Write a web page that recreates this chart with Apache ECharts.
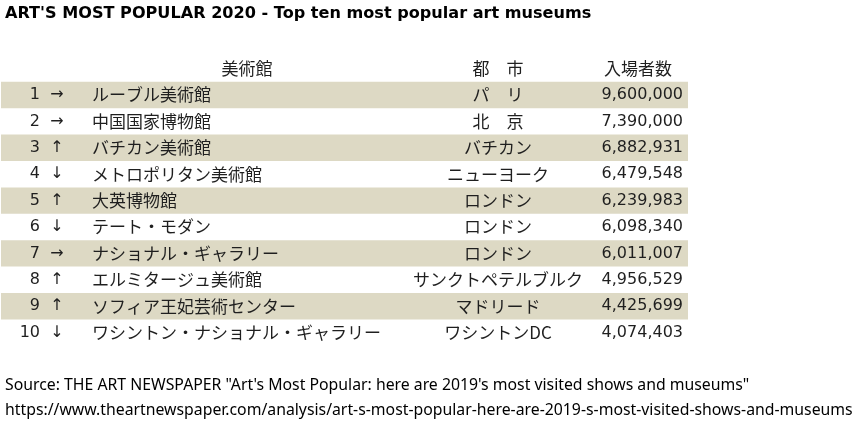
<!DOCTYPE html>
<html>
<head>
<meta charset="utf-8">
<script src="https://cdn.jsdelivr.net/npm/echarts@6/dist/echarts.min.js"></script>
<style>html,body{margin:0;padding:0;background:#fff}#c{width:860px;height:425px}</style>
</head>
<body>
<div id="c"></div>
<script>
const titleText = "ART'S MOST POPULAR 2020 - Top ten most popular art museums";
const headers = ['美術館', '都　市', '入場者数'];
const ranks = [1, 2, 3, 4, 5, 6, 7, 8, 9, 10];
const trends = ['→', '→', '↑', '↓', '↑', '↓', '→', '↑', '↑', '↓'];
const museums = ['ルーブル美術館', '中国国家博物館', 'バチカン美術館', 'メトロポリタン美術館', '大英博物館', 'テート・モダン', 'ナショナル・ギャラリー', 'エルミタージュ美術館', 'ソフィア王妃芸術センター', 'ワシントン・ナショナル・ギャラリー'];
const cities = ['パ　リ', '北　京', 'バチカン', 'ニューヨーク', 'ロンドン', 'ロンドン', 'ロンドン', 'サンクトペテルブルク', 'マドリード', 'ワシントンDC'];
const visitors = [9600000, 7390000, 6882931, 6479548, 6239983, 6098340, 6011007, 4956529, 4425699, 4074403];
const sourceLines = ['Source: THE ART NEWSPAPER "Art\'s Most Popular: here are 2019\'s most visited shows and museums"',
  'https://www.theartnewspaper.com/analysis/art-s-most-popular-here-are-2019-s-most-visited-shows-and-museums'];

const FONT = '"DejaVu Sans", "Noto Sans CJK JP", sans-serif';
const CJK = '"Noto Sans CJK JP", "DejaVu Sans", sans-serif';
const TXT = '#1f1f1f';
const BAND = '#DDD9C4';
const COL = { rank: 40, trend: 57, name: 92, nameHdr: 247, city: 498, visHdr: 638, vis: 683, bandL: 1, bandR: 688 };

const cats = ['hdr'].concat(ranks.map(String));
const rows = [[0, 0]].concat(ranks.map((r, i) => [0, i + 1]));

function fmt(n) { return n.toLocaleString('en-US'); }

const chart = echarts.init(document.getElementById('c'), null, { renderer: 'canvas' });
chart.setOption({
  animation: false,
  title: [
    { text: titleText, left: 5, top: 6, padding: 0, textStyle: { fontFamily: '"DejaVu Sans", sans-serif', fontWeight: 'bold', fontSize: 16.1, color: '#000' } },
    { text: sourceLines.join('\n'), left: 5, top: 373, padding: 0, textStyle: { fontFamily: '"Noto Sans", sans-serif', fontWeight: 'normal', fontSize: 15.8, lineHeight: 25, color: '#000' } }
  ],
  grid: { left: 0, right: 0, top: 55.4, bottom: 79.2 },
  xAxis: { type: 'value', min: 0, max: 860, show: false },
  yAxis: { type: 'category', data: cats, inverse: true, show: false },
  series: [{
    type: 'custom',
    data: rows,
    renderItem: function (params, api) {
      const idx = api.value(1);
      const y = api.coord([0, idx])[1];
      const h = api.size([0, 1])[1];
      const children = [];
      const ts = (x, text, align, font) => ({ type: 'text', style: { x: x, y: y, text: text, textAlign: align, textVerticalAlign: 'middle', font: font, fill: TXT } });
      const cjk = '17px ' + CJK;
      const lat = '16px ' + FONT;
      if (idx === 0) {
        children.push(ts(COL.nameHdr, headers[0], 'center', cjk));
        children.push(ts(COL.city, headers[1], 'center', cjk));
        children.push(ts(COL.visHdr, headers[2], 'center', cjk));
      } else {
        const i = idx - 1;
        if (i % 2 === 0) {
          children.push({ type: 'rect', shape: { x: COL.bandL, y: y - h / 2, width: COL.bandR - COL.bandL, height: h }, style: { fill: BAND } });
        }
        children.push(ts(COL.rank, String(ranks[i]), 'right', lat));
        children.push(ts(COL.trend, trends[i], 'center', lat));
        children.push(ts(COL.name, museums[i], 'left', cjk));
        children.push(ts(COL.city, cities[i], 'center', cjk));
        children.push(ts(COL.vis, fmt(visitors[i]), 'right', lat));
      }
      return { type: 'group', children: children };
    }
  }]
});
</script>
</body>
</html>
